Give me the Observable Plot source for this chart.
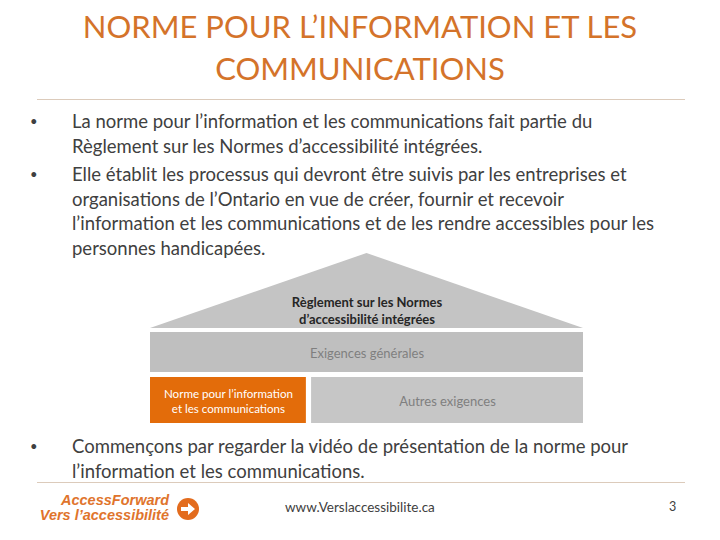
<!DOCTYPE html>
<html><head><meta charset="utf-8">
<script src="https://cdn.jsdelivr.net/npm/d3@7"></script>
<script src="https://cdn.jsdelivr.net/npm/@observablehq/plot@0.6"></script>
<style>
body{margin:0;width:720px;height:540px;position:relative;background:#fff;font-family:Lato,"Open Sans",sans-serif;overflow:hidden}
.title{position:absolute;left:0;top:5px;width:720px;text-align:center;color:#d4732a;font-size:31px;line-height:42px}
.rule{position:absolute;height:1px;background:#dccbbb}
.b{position:absolute;left:30px;width:670px;color:#404040;font-size:18.5px;line-height:24.5px}
.b .dot{position:absolute;left:0;top:0;font-size:13px}
.b .t{position:absolute;left:42px;white-space:nowrap}
#diagram{position:absolute;left:150px;top:253px}
.logo{position:absolute;left:30px;top:493px;color:#e0742c;font-family:"Liberation Sans",Arial,sans-serif;font-weight:bold;font-style:italic;font-size:14.5px;line-height:15px;text-align:right;width:139px}
.icon{position:absolute;left:176px;top:497px}
.url{position:absolute;left:285px;top:499px;color:#404040;font-size:13.5px}
.pg{position:absolute;left:669px;top:499px;color:#404040;font-size:12.5px}
</style></head>
<body>
<div class="title" id="title"></div>
<div class="rule" style="left:37px;top:99px;width:648px"></div>
<div id="bullets"></div>
<div id="diagram"></div>
<div class="rule" style="left:37px;top:482px;width:648px"></div>
<div class="logo" id="logo"></div>
<svg class="icon" width="24" height="24" viewBox="0 0 24 24"><circle cx="12" cy="12" r="11" fill="#e36c1e"/><path d="M5 10h7V6l7 6-7 6v-4H5z" fill="#fff"/></svg>
<div class="url" id="url"></div>
<div class="pg" id="pg"></div>
<script>
const titleLines = ["NORME POUR L’INFORMATION ET LES", "COMMUNICATIONS"];
const bulletParas = [
  ["La norme pour l’information et les communications fait partie du", "Règlement sur les Normes d’accessibilité intégrées."],
  ["Elle établit les processus qui devront être suivis par les entreprises et", "organisations de l’Ontario en vue de créer, fournir et recevoir", "l’information et les communications et de les rendre accessibles pour les", "personnes handicapées."],
  ["Commençons par regarder la vidéo de présentation de la norme pour", "l’information et les communications."]
];
const tierNames = ["Règlement sur les Normes\nd’accessibilité intégrées", "Exigences générales", "Norme pour l’information\net les communications", "Autres exigences"];
const tierLevel = [0, 1, 2, 2];
const tierShare = [1, 1, 0.36, 0.64];
const logoLines = ["AccessForward", "Vers l’accessibilité"];
const footerUrl = "www.Verslaccessibilite.ca";
const pageNum = "3";

document.getElementById("title").innerHTML = titleLines.join("<br>");
const paraTops = [109, 162, 434];
document.getElementById("bullets").innerHTML = bulletParas.map((p, i) =>
  `<div class="b" style="top:${paraTops[i]}px"><span class="dot">•</span><span class="t">${p.join("<br>")}</span></div>`).join("");
document.getElementById("logo").innerHTML = logoLines.join("<br>");
document.getElementById("url").textContent = footerUrl;
document.getElementById("pg").textContent = pageNum;

// diagram layout
const rows = [[0, 75], [79, 119], [124, 170]];
const gap = 0.012;
const blocks = tierNames.map((name, i) => {
  const lvl = tierLevel[i];
  const before = tierShare.slice(0, i).filter((_, j) => tierLevel[j] === lvl).reduce((a, b) => a + b, 0);
  const x1 = before + (before > 0 ? gap : 0);
  const x2 = before + tierShare[i];
  return {name, lvl, x1, x2, y1: rows[lvl][0], y2: rows[lvl][1], i};
});
const roof = blocks[0];
const roofPts = [{x: 0, top: roof.y2}, {x: 0.5, top: roof.y1}, {x: 1, top: roof.y2}];
const rects = blocks.filter(d => d.lvl > 0);
const fills = ["#c4c4c4", "#bfbfbf", "#e36c0a", "#c6c6c6"];
const textFill = ["#262626", "#7f7f7f", "#ffffff", "#7f7f7f"];
const textSize = [13, 13, 11.6, 13];

const chart = Plot.plot({
  width: 433, height: 171,
  margin: 0,
  x: {domain: [0, 1], axis: null},
  y: {domain: [0, 171], range: [0, 171], axis: null},
  style: {fontFamily: "Lato, sans-serif", background: "transparent"},
  marks: [
    Plot.areaY(roofPts, {x: "x", y1: roof.y2, y2: "top", fill: fills[0]}),
    Plot.rect(rects, {x1: "x1", x2: "x2", y1: "y1", y2: "y2", fill: d => fills[d.i]}),
    Plot.text([blocks[0]], {x: 0.5, y: d => (d.y1 + d.y2) / 2 + 19, text: "name", fill: textFill[0], fontWeight: "bold", fontSize: textSize[0], lineHeight: 1.35}),
    Plot.text(rects, {x: d => (d.x1 + d.x2) / 2, y: d => (d.y1 + d.y2) / 2, text: "name", fill: d => textFill[d.i], fontSize: d => textSize[d.i], lineHeight: 1.3})
  ]
});
document.getElementById("diagram").append(chart);
</script>
</body></html>
